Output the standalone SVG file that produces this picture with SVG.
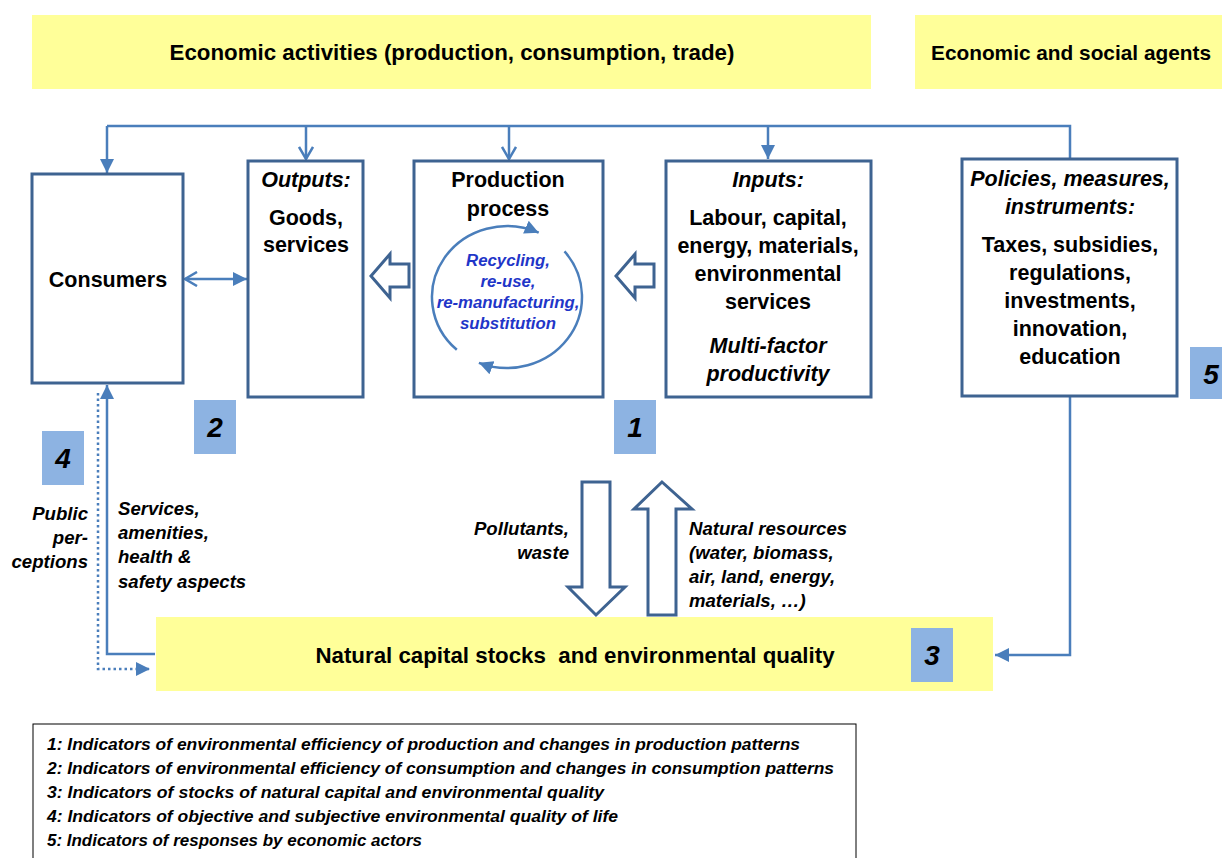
<svg xmlns="http://www.w3.org/2000/svg" width="1222" height="858" viewBox="0 0 1222 858">
<style>
.t{font-family:"Liberation Sans",Arial,sans-serif;font-weight:bold;font-size:21.5px;fill:#000;text-anchor:middle}
.bt{font-size:22.3px}
.i{font-style:italic}
.box{fill:#fff;stroke:#3e6391;stroke-width:3}
.ban{fill:#ffff99}
.num{fill:#8db3e2}
.nt{font-family:"Liberation Sans",Arial,sans-serif;font-weight:bold;font-style:italic;font-size:28px;fill:#000;text-anchor:middle}
.lb{font-family:"Liberation Sans",Arial,sans-serif;font-weight:bold;font-style:italic;font-size:18.6px;fill:#000}
.ln{fill:none;stroke:#4a7ebb;stroke-width:2.5}
.blk{fill:#fff;stroke:#3e6391;stroke-width:3;stroke-linejoin:miter}
.cyc{fill:none;stroke:#4a7ebb;stroke-width:2.5}
.rc{font-family:"Liberation Sans",Arial,sans-serif;font-weight:bold;font-style:italic;font-size:16.8px;fill:#1f36c8;text-anchor:middle}
.lg{font-family:"Liberation Sans",Arial,sans-serif;font-weight:bold;font-style:italic;font-size:16px;fill:#000}
</style>
<defs>
<marker id="fa" markerUnits="userSpaceOnUse" markerWidth="16" markerHeight="16" viewBox="0 0 16 16" refX="14" refY="8" orient="auto">
<path d="M0,1 L14,8 L0,15 Z" fill="#4a7ebb"/>
</marker>
<marker id="va" markerUnits="userSpaceOnUse" markerWidth="16" markerHeight="16" viewBox="0 0 16 16" refX="14" refY="8" orient="auto">
<path d="M2,1 L14,8 L2,15" fill="none" stroke="#4a7ebb" stroke-width="2.5"/>
</marker>
<marker id="vs" markerUnits="userSpaceOnUse" markerWidth="16" markerHeight="16" viewBox="0 0 16 16" refX="14" refY="8" orient="auto-start-reverse">
<path d="M2,1 L14,8 L2,15" fill="none" stroke="#4a7ebb" stroke-width="2.5"/>
</marker>
</defs>

<g id="banner-activities">
<rect class="ban" x="32" y="15" width="839" height="74"/>
<text class="t bt" x="452" y="60">Economic activities (production, consumption, trade)</text>
</g>
<g id="banner-agents">
<rect class="ban" x="915" y="15" width="307" height="74"/>
<text class="t" x="931" y="60" style="text-anchor:start;font-size:20.5px" textLength="280" lengthAdjust="spacingAndGlyphs">Economic and social agents</text>
</g>

<g id="connectors">
<path class="ln" d="M107,126 H1070 V159"/>
<line class="ln" x1="107" y1="126" x2="107" y2="173" marker-end="url(#fa)"/>
<line class="ln" x1="306" y1="126" x2="306" y2="159" marker-end="url(#va)"/>
<line class="ln" x1="509" y1="126" x2="509" y2="159" marker-end="url(#va)"/>
<line class="ln" x1="768" y1="126" x2="768" y2="159" marker-end="url(#fa)"/>
<line class="ln" x1="185" y1="279" x2="247" y2="279" marker-start="url(#vs)" marker-end="url(#fa)"/>
<path class="ln" d="M1070,396 V655 H995" marker-end="url(#fa)"/>
<path class="ln" d="M155,654 H107 V385" marker-end="url(#fa)"/>
<path class="ln" d="M98,393 V669 H150" stroke-dasharray="2.5,3" marker-end="url(#fa)"/>
<polygon class="blk" points="371,276 390,254 390,264 409,264 409,287 390,287 390,298"/>
<polygon class="blk" points="616,276 635,254 635,264 654,264 654,287 635,287 635,298"/>
<polygon class="blk" points="582,482 610,482 610,587 625,587 596,615 568,587 582,587"/>
<polygon class="blk" points="662,482 692,509 676,509 676,615 648,615 648,509 634,509"/>
</g>

<g id="consumers">
<rect class="box" x="32" y="174" width="151" height="209"/>
<text class="t" x="108" y="287">Consumers</text>
</g>

<g id="outputs">
<rect class="box" x="248" y="161" width="115" height="236"/>
<text class="t i" x="306" y="187">Outputs:</text>
<text class="t" x="306" y="225">Goods,</text>
<text class="t" x="306" y="252">services</text>
</g>

<g id="production">
<rect class="box" x="414" y="161" width="189" height="236"/>
<text class="t" x="508" y="187">Production</text>
<text class="t" x="508" y="216">process</text>
<path class="cyc" d="M456.8,349.8 A75,71 0 0 1 538.7,232.7" marker-end="url(#fa)"/>
<path class="cyc" d="M564.5,251.4 A75,71 0 0 1 478.9,362.8" marker-end="url(#fa)"/>
<text class="rc" x="508" y="266">Recycling,</text>
<text class="rc" x="508" y="287">re-use,</text>
<text class="rc" x="508" y="308">re-manufacturing,</text>
<text class="rc" x="508" y="329">substitution</text>
</g>

<g id="inputs">
<rect class="box" x="666" y="161" width="205" height="236"/>
<text class="t i" x="768" y="187">Inputs:</text>
<text class="t" x="768" y="225">Labour, capital,</text>
<text class="t" x="768" y="253">energy, materials,</text>
<text class="t" x="768" y="281">environmental</text>
<text class="t" x="768" y="309">services</text>
<text class="t i" x="768" y="353">Multi-factor</text>
<text class="t i" x="768" y="381">productivity</text>
</g>

<g id="policies">
<rect class="box" x="962" y="159" width="215" height="237"/>
<text class="t i" x="1070" y="186">Policies, measures,</text>
<text class="t i" x="1070" y="214">instruments:</text>
<text class="t" x="1070" y="252">Taxes, subsidies,</text>
<text class="t" x="1070" y="280">regulations,</text>
<text class="t" x="1070" y="308">investments,</text>
<text class="t" x="1070" y="336">innovation,</text>
<text class="t" x="1070" y="364">education</text>
</g>

<g id="natural-capital">
<rect class="ban" x="156" y="617" width="837" height="74"/>
<text class="t bt" x="575" y="663">Natural capital stocks&#160; and environmental quality</text>
</g>

<g id="label-pollutants">
<text class="lb" x="569" y="535" text-anchor="end">Pollutants,</text>
<text class="lb" x="569" y="559" text-anchor="end">waste</text>
</g>
<g id="label-resources">
<text class="lb" x="689" y="535">Natural resources</text>
<text class="lb" x="689" y="559">(water, biomass,</text>
<text class="lb" x="689" y="583">air, land, energy,</text>
<text class="lb" x="689" y="607">materials, …)</text>
</g>
<g id="label-services">
<text class="lb" x="118" y="515">Services,</text>
<text class="lb" x="118" y="539">amenities,</text>
<text class="lb" x="118" y="563">health &amp;</text>
<text class="lb" x="118" y="588">safety aspects</text>
</g>
<g id="label-public">
<text class="lb" x="88" y="520" text-anchor="end">Public</text>
<text class="lb" x="88" y="544" text-anchor="end">per-</text>
<text class="lb" x="88" y="568" text-anchor="end">ceptions</text>
</g>

<g id="num-1"><rect class="num" x="614" y="400" width="42" height="54"/><text class="nt" x="635" y="437">1</text></g>
<g id="num-2"><rect class="num" x="194" y="400" width="42" height="54"/><text class="nt" x="215" y="437">2</text></g>
<g id="num-3"><rect class="num" x="911" y="628" width="42" height="54"/><text class="nt" x="932" y="665">3</text></g>
<g id="num-4"><rect class="num" x="42" y="431" width="42" height="54"/><text class="nt" x="63" y="468">4</text></g>
<g id="num-5"><rect class="num" x="1190" y="347" width="42" height="52"/><text class="nt" x="1211" y="384">5</text></g>

<g id="legend">
<rect x="33" y="724" width="823" height="150" fill="#fff" stroke="#000" stroke-width="1"/>
<text class="lg" x="47" y="750" textLength="753" lengthAdjust="spacingAndGlyphs">1: Indicators of environmental efficiency of production and changes in production patterns</text>
<text class="lg" x="47" y="774" textLength="787" lengthAdjust="spacingAndGlyphs">2: Indicators of environmental efficiency of consumption and changes in consumption patterns</text>
<text class="lg" x="47" y="798" textLength="557" lengthAdjust="spacingAndGlyphs">3: Indicators of stocks of natural capital and environmental quality</text>
<text class="lg" x="47" y="822" textLength="571" lengthAdjust="spacingAndGlyphs">4: Indicators of objective and subjective environmental quality of life</text>
<text class="lg" x="47" y="846" textLength="375" lengthAdjust="spacingAndGlyphs">5: Indicators of responses by economic actors</text>
</g>
</svg>
